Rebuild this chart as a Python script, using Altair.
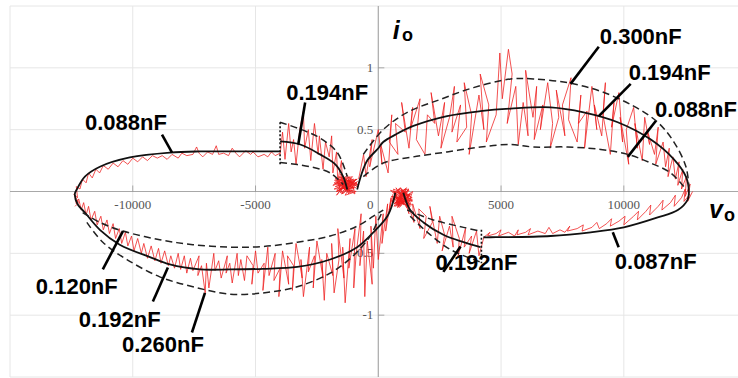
import altair as alt
import pandas as pd

# ---------------- axes / grid ----------------
X_DOMAIN = [-15000, 14650]
Y_DOMAIN = [-1.5, 1.5]
x_grid = [-15000, -10000, -5000, 5000, 10000]
y_grid = [-1.5, -1.0, -0.5, 0.5, 1.0, 1.5]
x_ticks = [-10000, -5000, 5000, 10000]
x_tick_labels = ["-10000", "-5000", "5000", "10000"]
y_ticks = [1.0, 0.5, -0.5, -1.0]
y_tick_labels = ["1", "0.5", "-0.5", "-1"]

# ---------------- fitted curves (solid) ----------------
s_left_x = [-4000, -5430, -7260, -8490, -10120, -11340, -11950, -12280, -12360, -12240, -11950, -11340,
            -10530, -9300, -8490, -7260, -6040, -4700, -3300, -1960, -860, -200, 370, 610, 690]
s_left_y = [0.324, 0.324, 0.324, 0.315, 0.275, 0.2, 0.12, 0.016, -0.02, -0.105, -0.17, -0.31,
            -0.43, -0.53, -0.59, -0.63, -0.63, -0.625, -0.61, -0.55, -0.45, -0.33, -0.2, -0.08, -0.01]
s_ul_x = [-4000, -3180, -2370, -1750, -1430, -1265]
s_ul_y = [0.405, 0.38, 0.30, 0.22, 0.12, 0.016]
s_right_x = [-860, -700, -450, 0, 200, 700, 1430, 2800, 4160, 5390, 7020, 8360, 9750, 11100, 12040, 12530,
             12650, 12600, 12200, 11380, 10000, 8650, 7020, 4570, 4280]
s_right_y = [0.016, 0.13, 0.25, 0.35, 0.4, 0.46, 0.53, 0.61, 0.65, 0.67, 0.68, 0.64, 0.56, 0.42, 0.26, 0.12,
             -0.01, -0.065, -0.15, -0.21, -0.29, -0.33, -0.36, -0.37, -0.37]
s_lr_x = [1020, 1300, 1840, 2650, 3470, 4160]
s_lr_y = [-0.01, -0.15, -0.25, -0.35, -0.41, -0.45]

# ---------------- bounds (dashed) ----------------
d_ru_x = [-610, 200, 1180, 2530, 3880, 5390, 6320, 7710, 9060, 10400, 11380, 12040, 12530, 12650]
d_ru_y = [0.30, 0.5, 0.64, 0.745, 0.84, 0.91, 0.91, 0.88, 0.81, 0.69, 0.56, 0.4, 0.2, 0.04]
d_rl_x = [-610, 200, 1430, 2800, 4160, 5390, 6320, 7710, 9060, 10160, 11100, 11910, 12440]
d_rl_y = [0.12, 0.23, 0.28, 0.32, 0.36, 0.38, 0.36, 0.36, 0.34, 0.3, 0.23, 0.15, 0.04]
d_ulu_x = [-4000, -2490, -1670, -1265]
d_ulu_y = [0.56, 0.445, 0.315, 0.12]
d_ull_x = [-4000, -2770, -1960, -1430]
d_ull_y = [0.235, 0.2, 0.15, 0.057]
d_llu_x = [-12040, -11340, -10400, -8900, -7550, -6040, -4690, -3300, -1960, -860, -200, 200]
d_llu_y = [-0.17, -0.25, -0.32, -0.39, -0.43, -0.45, -0.445, -0.41, -0.36, -0.28, -0.2, -0.15]
d_lll_x = [-11870, -11220, -10240, -8900, -7550, -6040, -4690, -3300, -1960, -1020, -330, 0, 200]
d_lll_y = [-0.25, -0.41, -0.55, -0.69, -0.77, -0.83, -0.82, -0.77, -0.66, -0.52, -0.36, -0.23, -0.15]
d_lru_x = [1180, 2240, 3470, 4160]
d_lru_y = [-0.15, -0.23, -0.29, -0.32]
d_lrl_x = [1300, 2000, 2940, 4160]
d_lrl_y = [-0.2, -0.33, -0.47, -0.57]
dot_x = [-4000, 4200]
dot_y1 = [0.22, -0.31]
dot_y2 = [0.57, -0.58]

# ---------------- measured trace (red) ----------------
r1_x = [-4000, -4200, -4350, -4500, -4650, -4900, -5100, -5200, -5400, -5650, -5800, -5950, -6100, -6300,
        -6500, -6600, -6750, -6950, -7150, -7300, -7400, -7550, -7800, -8000, -8150, -8400, -8600, -8800,
        -9000, -9200, -9400, -9600, -9800, -10000, -10200, -10400, -10600, -10800, -11000, -11200, -11350,
        -11500, -11650, -11800, -11900, -12050, -12150, -12300, -12250, -12400, -12200, -12350]
r1_y = [0.31, 0.29, 0.32, 0.28, 0.30, 0.28, 0.32, 0.30, 0.33, 0.28, 0.31, 0.35, 0.29, 0.31,
        0.30, 0.37, 0.30, 0.32, 0.28, 0.31, 0.36, 0.30, 0.29, 0.31, 0.27, 0.30, 0.26, 0.29,
        0.27, 0.29, 0.25, 0.28, 0.24, 0.27, 0.22, 0.25, 0.20, 0.23, 0.18, 0.21, 0.15,
        0.18, 0.11, 0.15, 0.07, 0.10, 0.02, 0.04, -0.05, -0.02, -0.09, -0.12]
r2_x = [600, 450, 520, 300, 380, 150, 200, 0, -100, -200, -300, -250, -450, -550, -600, -750, -700, -900,
        -1000, -950, -1200, -1150, -1350, -1450, -1400, -1650, -1600, -1800, -1900, -1850, -2100, -2200,
        -2300, -2250, -2500, -2650, -2600, -2850, -2800, -3050, -3150, -3100, -3350, -3500, -3450, -3700,
        -3650, -3900, -4050, -4000, -4250, -4200, -4450, -4500, -4700, -4650, -4900, -5000, -5150, -5100,
        -5350, -5450, -5600, -5700, -5750, -5950, -6050, -6200, -6150, -6400, -6500, -6650, -6700, -6900,
        -7000, -7050, -7200, -7350, -7300, -7550, -7650, -7800, -7900, -8050, -8150, -8300, -8450, -8550,
        -8700, -8850, -8950, -9100, -9250, -9400, -9550, -9650, -9800, -9950, -10050, -10200, -10300, -10450,
        -10550, -10700, -10800, -10950, -11050, -11200, -11300, -11450, -11550, -11700, -11800, -11900,
        -12000, -12100, -12200, -12300, -12350]
r2_y = [-0.02, -0.15, -0.05, -0.32, -0.1, -0.42, -0.18, -0.55, -0.2, -0.62, -0.28, -0.75, -0.4, -0.85,
        -0.32, -0.6, -0.18, -0.5, -0.78, -0.3, -0.62, -0.38, -0.9, -0.45, -0.7, -0.3, -0.55, -0.82, -0.42,
        -0.68, -0.5, -0.88, -0.55, -0.7, -0.4, -0.78, -0.52, -0.65, -0.45, -0.85, -0.55, -0.7, -0.42, -0.8,
        -0.6, -0.52, -0.75, -0.48, -0.85, -0.62, -0.72, -0.5, -0.68, -0.45, -0.8, -0.58, -0.66, -0.48,
        -0.75, -0.6, -0.52, -0.72, -0.55, -0.68, -0.5, -0.74, -0.58, -0.66, -0.52, -0.7, -0.56, -0.64,
        -0.5, -0.78, -0.58, -0.82, -0.6, -0.68, -0.52, -0.64, -0.54, -0.66, -0.52, -0.63, -0.5, -0.62,
        -0.52, -0.6, -0.48, -0.58, -0.46, -0.56, -0.44, -0.54, -0.42, -0.5, -0.38, -0.48, -0.36, -0.44,
        -0.33, -0.42, -0.3, -0.38, -0.26, -0.34, -0.23, -0.31, -0.2, -0.27, -0.16, -0.23, -0.12, -0.19,
        -0.09, -0.15, -0.06, -0.1, -0.03]
r_ul_x = [-4000, -3900, -3800, -3650, -3550, -3450, -3350, -3200, -3050, -3000, -2850, -2750, -2600, -2450,
          -2400, -2250, -2150, -2000, -1900, -1850, -1700, -1650, -1500, -1450, -1350]
r_ul_y = [0.3, 0.48, 0.26, 0.55, 0.32, 0.42, 0.22, 0.5, 0.65, 0.35, 0.5, 0.25, 0.55, 0.3,
          0.45, 0.18, 0.4, 0.28, 0.45, 0.15, 0.32, 0.08, 0.25, 0.02, 0.12]
r_bl_x = [-1300, -1650, -1000, -1800, -900, -1450, -1750, -1100, -1550, -850, -1250, -1700, -1150, -950,
          -1500, -1800, -1050, -1350, -900, -1600, -1200, -800, -1400, -1700, -1000, -1300, -1550, -850,
          -1150, -1450, -1750, -950, -1350, -1650, -1050, -1250, -1850, -1100, -1500, -880, -1600, -1200,
          -1400, -1000, -1700, -1300, -920, -1550, -1150, -1780, -1050, -1450, -1250, -860, -1600, -1350,
          -1100, -1700, -980, -1500]
r_bl_y = [0.0, 0.08, 0.03, 0.02, 0.1, -0.02, 0.11, -0.01, 0.12, 0.04, 0.09, -0.03, 0.11, -0.02,
          0.05, 0.07, 0.07, -0.03, 0.0, 0.03, 0.12, 0.05, 0.1, 0.0, 0.06, 0.11, -0.01, 0.08,
          0.02, 0.06, 0.04, 0.08, 0.02, 0.1, 0.0, 0.13, 0.05, 0.09, -0.02, 0.06, 0.12, -0.02,
          0.08, 0.1, 0.0, 0.04, 0.03, 0.14, -0.01, 0.09, 0.12, 0.03, 0.06, 0.1, 0.01, 0.07,
          0.05, 0.11, 0.02, 0.09]
r_ur_x = [-800, -600, -500, -250, -350, 0, 150, 100, 400, 550, 450, 800, 700, 1100, 950, 1250, 1400, 1300,
          1700, 1550, 1900, 2000, 2300, 2150, 2450, 2700, 2550, 2900, 3100, 3000, 3350, 3200, 3600, 3500,
          3800, 3700, 4100, 4300, 4150, 4500, 4400, 4800, 4950, 5050, 5300, 5450, 5250, 5600, 5700, 5900,
          6100, 6000, 6300, 6450, 6350, 6700, 6600, 6900, 7100, 7000, 7350, 7250, 7600, 7500, 7850, 7750,
          8100, 8250, 8150, 8500, 8400, 8700, 8900, 8800, 9100, 9250, 9150, 9450, 9600, 9500, 9800, 9950,
          9850, 10200, 10100, 10400, 10550, 10450, 10750, 10850, 11050, 10950, 11250, 11400, 11300, 11600,
          11700, 11850, 11800, 12000, 12100, 12250, 12200, 12400, 12350, 12550, 12500, 12700, 12600, 12800]
r_ur_y = [0.1, 0.3, 0.12, 0.42, 0.2, 0.5, 0.22, 0.38, 0.15, 0.62, 0.4, 0.3, 0.55, 0.48, 0.72, 0.35, 0.68,
          0.5, 0.75, 0.42, 0.3, 0.62, 0.55, 0.8, 0.45, 0.72, 0.35, 0.6, 0.85, 0.48, 0.7, 0.4, 0.52, 0.88,
          0.62, 0.3, 0.78, 0.5, 0.95, 0.7, 0.4, 0.62, 1.12, 0.75, 1.15, 0.95, 0.55, 0.85, 0.38, 0.72,
          0.45, 0.98, 0.6, 0.85, 0.42, 0.7, 0.5, 0.88, 0.55, 0.35, 0.6, 0.82, 0.45, 0.7, 0.92, 0.58,
          0.4, 0.78, 0.55, 0.65, 0.35, 0.85, 0.5, 0.7, 0.45, 0.88, 0.62, 0.3, 0.72, 0.52, 0.8, 0.4,
          0.6, 0.22, 0.5, 0.68, 0.35, 0.55, 0.25, 0.6, 0.38, 0.5, 0.3, 0.52, 0.22, 0.4,
          0.2, 0.35, 0.12, 0.28, 0.1, 0.24, 0.05, 0.18, 0.02, 0.12, -0.04, 0.06, -0.08, 0.0]
r_lr_x = [4300, 4550, 4450, 4800, 5000, 4900, 5300, 5550, 5700, 5650, 6000, 6200, 6100, 6500, 6800, 6950,
          7100, 7400, 7600, 7800, 7700, 8100, 8350, 8300, 8700, 8900, 9000, 9300, 9500, 9450, 9800, 10050,
          10000, 10400, 10600, 10550, 10900, 11100, 11050, 11400, 11600, 11550, 11900, 12100, 12050, 12350,
          12500, 12450, 12700]
r_lr_y = [-0.37, -0.33, -0.36, -0.34, -0.31, -0.36, -0.33, -0.36, -0.31, -0.35, -0.33, -0.3, -0.35, -0.32,
          -0.34, -0.29, -0.34, -0.31, -0.33, -0.28, -0.32, -0.3, -0.27, -0.32, -0.29, -0.25, -0.3, -0.26,
          -0.22, -0.28, -0.24, -0.2, -0.27, -0.2, -0.16, -0.23, -0.16, -0.11, -0.19, -0.12, -0.07, -0.15,
          -0.09, -0.03, -0.12, -0.05, 0.02, -0.08, -0.02]
r_lr192_x = [1000, 1250, 1150, 1450, 1400, 1700, 1650, 1950, 1850, 2200, 2100, 2400, 2500, 2700, 2600, 2900,
             3050, 3000, 3300, 3250, 3550, 3500, 3800, 3700, 4000, 4100, 4300]
r_lr192_y = [-0.02, -0.18, -0.06, -0.25, -0.1, -0.3, -0.14, -0.2, -0.38, -0.25, -0.12, -0.42, -0.2, -0.35,
             -0.48, -0.28, -0.45, -0.2, -0.38, -0.52, -0.3, -0.45, -0.36, -0.5, -0.32, -0.52, -0.37]
r_br_x = [650, 900, 560, 1200, 700, 1350, 820, 1050, 600, 1300, 950, 720, 1150, 1400, 880, 640, 1250,
          1000, 780, 1100, 530, 1380, 900, 1200, 700, 1000, 1300, 850, 620, 1150, 1350, 750, 1050, 500,
          1250, 900, 680, 1400, 820, 1150, 580, 1300, 980, 720, 1200, 1080, 640, 1320, 860, 1000, 560,
          1250, 760, 1120, 940, 1380, 700, 1050, 820, 1200]
r_br_y = [-0.02, 0.03, -0.08, 0.01, -0.12, -0.05, 0.02, -0.11, 0.0, -0.1, -0.03, 0.03, -0.13, 0.0,
          -0.07, -0.1, 0.02, 0.01, -0.13, -0.06, -0.04, -0.08, 0.03, -0.12, -0.05, -0.09, -0.02, -0.13,
          0.02, -0.03, -0.11, -0.06, -0.1, 0.01, -0.04, -0.12, 0.0, -0.07, -0.09, 0.03, -0.06, -0.12,
          0.01, -0.1, -0.05, 0.02, -0.12, -0.02, -0.04, -0.1, -0.08, 0.01, -0.11, -0.07, 0.02, -0.05,
          -0.09, -0.01, -0.12, -0.04]

# ---------------- annotations ----------------
lab_text = ["0.088nF", "0.194nF", "0.300nF", "0.194nF", "0.088nF", "0.087nF", "0.192nF",
            "0.120nF", "0.192nF", "0.260nF"]
lab_x = [-10280, -2080, 10690, 11870, 12940, 11300, 4000, -12280, -10530, -8770]
lab_y = [0.55, 0.80, 1.25, 0.955, 0.66, -0.57, -0.575, -0.77, -1.04, -1.24]
lead_x = [-8810, -2980, 8980, 10280, 11300, 9790, 2650, -11220, -9180, -7590]
lead_y = [0.46, 0.72, 1.17, 0.87, 0.57, -0.45, -0.65, -0.63, -0.89, -1.14]
lead_x2 = [-8400, -3260, 7830, 8980, 10160, 9550, 3350, -10400, -8570, -7060]
lead_y2 = [0.315, 0.38, 0.87, 0.61, 0.28, -0.33, -0.445, -0.32, -0.615, -0.82]

title_main = ["i", "v"]
title_main_x = [730, 13750]
title_main_y = [1.30, -0.15]
title_sub = ["o", "o"]
title_sub_x = [1190, 14300]
title_sub_y = [1.255, -0.20]

# ---------------- build ----------------
xs = alt.Scale(domain=X_DOMAIN, nice=False, zero=False)
ys = alt.Scale(domain=Y_DOMAIN, nice=False, zero=False)
X = lambda f="x": alt.X(f"{f}:Q", scale=xs, axis=None)
Y = lambda f="y": alt.Y(f"{f}:Q", scale=ys, axis=None)


def seg_df(parts):
    frames = []
    for name, px, py in parts:
        frames.append(pd.DataFrame({"x": px, "y": py, "seg": name, "i": list(range(len(px)))}))
    return pd.concat(frames, ignore_index=True)


gx = alt.Chart(pd.DataFrame({"x": x_grid})).mark_rule(color="#e6e6e6", strokeWidth=1).encode(x=X())
gy = alt.Chart(pd.DataFrame({"y": y_grid})).mark_rule(color="#e6e6e6", strokeWidth=1).encode(y=Y())
ax = alt.Chart(pd.DataFrame({"x": [0]})).mark_rule(color="#a8a8a8", strokeWidth=1.2).encode(x=X())
ay = alt.Chart(pd.DataFrame({"y": [0]})).mark_rule(color="#a8a8a8", strokeWidth=1.2).encode(y=Y())

tick_x = alt.Chart(pd.DataFrame({"x": x_ticks, "y": [0] * len(x_ticks)})).mark_tick(
    orient="vertical", size=6, thickness=1, color="#888", yOffset=-3).encode(x=X(), y=Y())
tick_y = alt.Chart(pd.DataFrame({"x": [0] * len(y_ticks), "y": y_ticks})).mark_tick(
    orient="horizontal", size=6, thickness=1, color="#888", xOffset=3).encode(x=X(), y=Y())

SERIF = "Liberation Serif, Times New Roman, serif"
xl = alt.Chart(pd.DataFrame({"x": x_ticks, "y": [0] * len(x_ticks), "t": x_tick_labels})).mark_text(
    font=SERIF, fontSize=13, color="#555", dy=13, baseline="middle", align="center"
).encode(x=X(), y=Y(), text="t:N")
zl = alt.Chart(pd.DataFrame({"x": [0], "y": [0], "t": ["0"]})).mark_text(
    font=SERIF, fontSize=13, color="#555", dy=13, dx=-8, baseline="middle", align="center"
).encode(x=X(), y=Y(), text="t:N")
yl = alt.Chart(pd.DataFrame({"x": [0] * len(y_ticks), "y": y_ticks, "t": y_tick_labels})).mark_text(
    font=SERIF, fontSize=13, color="#555", dx=-5, baseline="middle", align="right"
).encode(x=X(), y=Y(), text="t:N")

red = seg_df([("r1", r1_x, r1_y), ("r2", r2_x, r2_y), ("rul", r_ul_x, r_ul_y), ("rbl", r_bl_x, r_bl_y),
              ("rur", r_ur_x, r_ur_y), ("rlr", r_lr_x, r_lr_y), ("rlr192", r_lr192_x, r_lr192_y),
              ("rbr", r_br_x, r_br_y)])
red_l = alt.Chart(red).mark_line(color="#ee1c1c", strokeWidth=0.9, opacity=0.85).encode(
    x=X(), y=Y(), detail="seg:N", order="i:Q")

solid = seg_df([("a", s_left_x, s_left_y), ("b", s_ul_x, s_ul_y), ("c", s_right_x, s_right_y),
                ("d", s_lr_x, s_lr_y)])
solid_l = alt.Chart(solid).mark_line(color="#111", strokeWidth=1.8, interpolate="catmull-rom").encode(
    x=X(), y=Y(), detail="seg:N", order="i:Q")

dashed = seg_df([("a", d_ru_x, d_ru_y), ("b", d_rl_x, d_rl_y), ("c", d_ulu_x, d_ulu_y),
                 ("d", d_ull_x, d_ull_y), ("e", d_llu_x, d_llu_y), ("f", d_lll_x, d_lll_y),
                 ("g", d_lru_x, d_lru_y), ("h", d_lrl_x, d_lrl_y)])
dashed_l = alt.Chart(dashed).mark_line(color="#222", strokeWidth=1.5, strokeDash=[7, 4],
                                       interpolate="catmull-rom").encode(
    x=X(), y=Y(), detail="seg:N", order="i:Q")

dots = alt.Chart(pd.DataFrame({"x": dot_x, "y": dot_y1, "y2": dot_y2})).mark_rule(
    color="#111", strokeWidth=1.6, strokeDash=[2, 2]).encode(x=X(), y=Y(), y2="y2:Q")

leads = alt.Chart(pd.DataFrame({"x": lead_x, "y": lead_y, "x2": lead_x2, "y2": lead_y2})).mark_rule(
    color="#000", strokeWidth=2.6).encode(x=X(), y=Y(), x2="x2:Q", y2="y2:Q")

labels = alt.Chart(pd.DataFrame({"x": lab_x, "y": lab_y, "t": lab_text})).mark_text(
    font="Liberation Sans", fontSize=22, fontWeight="bold", color="#000", align="center",
    baseline="middle").encode(x=X(), y=Y(), text="t:N")

tmain = alt.Chart(pd.DataFrame({"x": title_main_x, "y": title_main_y, "t": title_main})).mark_text(
    font="Liberation Sans", fontSize=25, fontWeight="bold", fontStyle="italic", color="#000",
    align="center", baseline="middle").encode(x=X(), y=Y(), text="t:N")
tsub = alt.Chart(pd.DataFrame({"x": title_sub_x, "y": title_sub_y, "t": title_sub})).mark_text(
    font="Liberation Sans", fontSize=18, fontWeight="bold", color="#000",
    align="center", baseline="middle").encode(x=X(), y=Y(), text="t:N")

chart = alt.layer(gx, gy, ax, ay, tick_x, tick_y, xl, zl, yl, red_l, solid_l, dashed_l, dots, leads,
                  labels, tmain, tsub).properties(
    width=728, height=371,
    padding={"left": 10, "top": 6, "right": 0, "bottom": 1},
    autosize=alt.AutoSizeParams(type="none"),
    background="white",
).configure_view(stroke=None)

chart.save("out.html", embed_options={"renderer": "svg", "actions": False})
